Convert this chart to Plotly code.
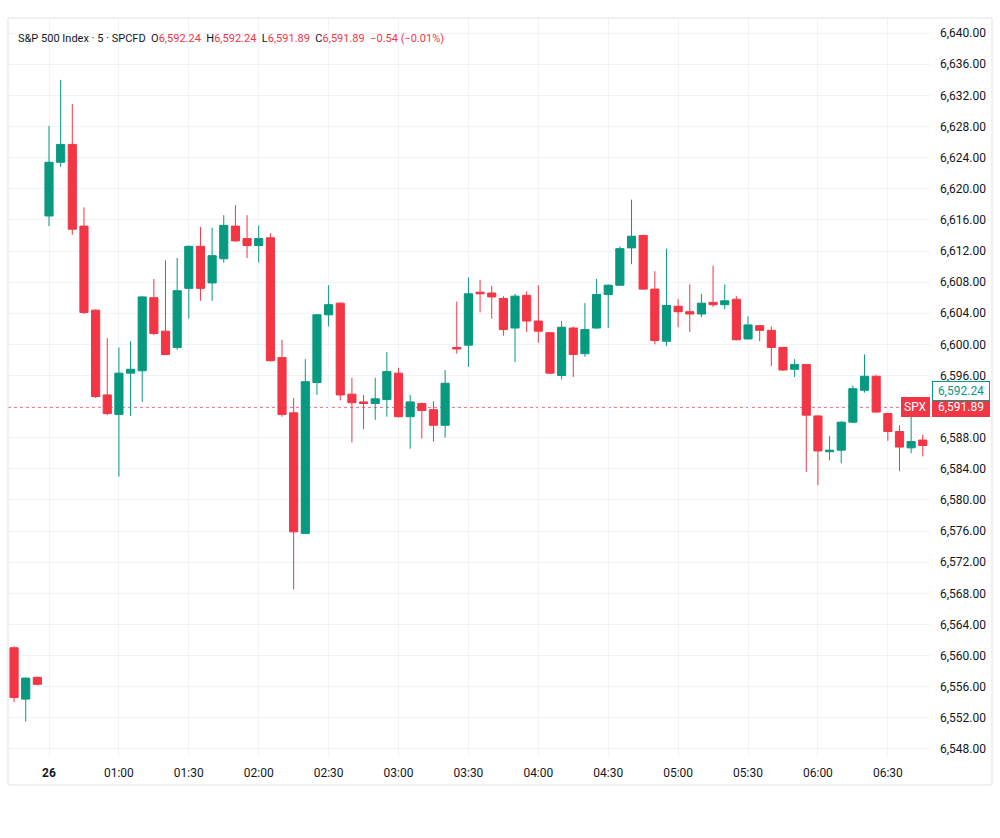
import plotly.graph_objects as go

# ---- data (5-minute bars, S&P 500 CFD) ----
opens = [6561.0, 6554.4, 6557.2, 6616.5, 6623.4, 6625.7, 6615.2, 6604.4, 6593.5, 6591.0,
         6596.3, 6596.6, 6606.0, 6601.7, 6599.6, 6607.2, 6612.6, 6607.9, 6611.0, 6615.2,
         6613.6, 6612.7, 6613.7, 6598.3, 6591.2, 6575.7, 6595.1, 6603.8, 6605.3, 6593.6,
         6592.6, 6592.4, 6592.9, 6596.3, 6590.7, 6592.4, 6591.6, 6589.6, 6599.6, 6599.9,
         6606.7, 6606.6, 6605.9, 6602.1, 6606.3, 6603.0, 6601.5, 6596.0, 6602.1, 6598.8,
         6602.1, 6606.4, 6607.6, 6612.4, 6614.0, 6607.1, 6600.4, 6604.9, 6604.2, 6603.9,
         6605.4, 6605.1, 6605.8, 6600.7, 6602.4, 6601.8, 6599.6, 6596.8, 6597.4, 6590.8,
         6586.2, 6586.4, 6590.0, 6594.1, 6595.9, 6591.1, 6588.8, 6586.7, 6587.7]
highs = [6561.2, 6557.2, 6557.3, 6628.1, 6634.0, 6630.9, 6617.6, 6604.5, 6600.8, 6599.6,
         6600.4, 6606.2, 6608.4, 6610.8, 6611.1, 6612.7, 6615.1, 6615.0, 6616.6, 6617.9,
         6616.6, 6615.3, 6614.3, 6600.6, 6593.1, 6598.1, 6603.9, 6607.6, 6605.4, 6595.7,
         6593.5, 6595.7, 6599.0, 6597.0, 6593.5, 6592.5, 6592.7, 6596.7, 6605.5, 6608.6,
         6608.3, 6607.5, 6606.2, 6606.5, 6606.8, 6607.6, 6601.6, 6603.0, 6602.3, 6605.3,
         6608.4, 6607.7, 6612.6, 6618.6, 6614.1, 6609.4, 6612.3, 6605.8, 6607.7, 6606.5,
         6610.1, 6607.7, 6606.2, 6603.6, 6602.5, 6602.3, 6599.7, 6598.1, 6597.5, 6590.9,
         6588.2, 6590.1, 6594.7, 6598.7, 6596.1, 6591.2, 6589.6, 6590.8, 6588.4]
lows = [6554.0, 6551.5, 6556.2, 6615.2, 6622.8, 6614.1, 6603.9, 6593.1, 6590.9, 6583.0,
        6590.8, 6592.6, 6601.2, 6598.6, 6599.3, 6603.3, 6605.6, 6605.6, 6610.5, 6613.2,
        6611.1, 6610.5, 6597.8, 6590.7, 6568.5, 6575.6, 6593.5, 6602.3, 6592.8, 6587.4,
        6589.1, 6590.3, 6590.7, 6590.6, 6586.6, 6587.9, 6587.5, 6588.0, 6598.8, 6597.1,
        6604.1, 6603.3, 6601.1, 6597.7, 6601.6, 6600.2, 6596.2, 6595.5, 6595.8, 6598.4,
        6602.0, 6602.1, 6607.5, 6610.3, 6607.0, 6600.0, 6599.8, 6602.2, 6601.6, 6603.5,
        6604.8, 6604.5, 6600.5, 6600.6, 6600.4, 6597.2, 6596.6, 6595.8, 6583.6, 6581.9,
        6585.1, 6584.7, 6589.9, 6593.8, 6591.2, 6587.6, 6583.7, 6586.0, 6585.6]
closes = [6554.6, 6557.1, 6556.3, 6623.4, 6625.7, 6614.8, 6604.1, 6593.3, 6591.1, 6596.3,
          6596.8, 6606.1, 6601.4, 6598.7, 6606.9, 6612.6, 6607.2, 6611.4, 6615.3, 6613.3,
          6612.7, 6613.6, 6597.9, 6591.0, 6575.9, 6595.2, 6603.8, 6605.1, 6593.5, 6592.5,
          6592.4, 6593.0, 6596.5, 6590.7, 6592.6, 6591.5, 6589.6, 6595.0, 6599.4, 6606.5,
          6606.5, 6606.1, 6601.9, 6606.2, 6603.0, 6601.7, 6596.3, 6602.2, 6598.7, 6601.9,
          6606.4, 6607.6, 6612.3, 6613.9, 6607.1, 6600.5, 6605.0, 6604.2, 6603.9, 6605.3,
          6605.1, 6605.6, 6600.6, 6602.5, 6601.8, 6599.6, 6596.7, 6597.4, 6590.9, 6586.3,
          6586.4, 6590.0, 6594.3, 6595.9, 6591.3, 6588.8, 6586.8, 6587.5, 6587.0]
bar_index = list(range(len(opens)))

tick_bars = [3, 9, 15, 21, 27, 33, 39, 45, 51, 57, 63, 69, 75]
tick_labels = ["<b>26</b>", "01:00", "01:30", "02:00", "02:30", "03:00", "03:30",
               "04:00", "04:30", "05:00", "05:30", "06:00", "06:30"]

last_price = 6591.89
other_price = 6592.24
header_parts = ["S&P 500 Index · 5 · SPCFD", "6,592.24", "6,592.24", "6,591.89", "6,591.89", "−0.54 (−0.01%)"]

GREEN = "#089981"
RED = "#f23645"
TXT = "#131722"
GRID = "#f0f3fa"

fig = go.Figure()
fig.add_trace(go.Candlestick(
    x=bar_index, open=opens, high=highs, low=lows, close=closes,
    increasing=dict(line=dict(color=GREEN, width=1), fillcolor=GREEN),
    decreasing=dict(line=dict(color=RED, width=1), fillcolor=RED),
    whiskerwidth=0, showlegend=False, hoverinfo="skip",
))

# last price dotted line
fig.add_shape(type="line", xref="paper", yref="y", x0=0, x1=1, y0=last_price, y1=last_price,
              line=dict(color="#e57f89", width=1, dash="dot"), layer="below")

# outer frame
fig.add_shape(type="rect", xref="paper", yref="paper", x0=0, x1=984/922, y0=-28/739, y1=1,
              line=dict(color="#e0e3eb", width=1), fillcolor="rgba(0,0,0,0)")

R = lambda s: f'<span style="color:{RED}">{s}</span>'
sp = "\u00a0\u00a0"
header = (header_parts[0] + sp + "O" + R(header_parts[1]) + sp + "H" + R(header_parts[2]) + sp +
          "L" + R(header_parts[3]) + sp + "C" + R(header_parts[4]) + sp + R(header_parts[5]))
fig.add_annotation(xref="paper", yref="paper", x=8/922, y=(757-38)/739, text=header,
                   showarrow=False, xanchor="left", yanchor="middle",
                   font=dict(family="Roboto", size=11, color=TXT))

# price labels on right axis
fig.add_annotation(xref="paper", yref="y", x=1.0025, y=last_price, text=f"{last_price:,.2f}",
                   showarrow=False, xanchor="left", yanchor="middle", bgcolor=RED,
                   bordercolor=RED, borderwidth=1, borderpad=2, width=52,
                   font=dict(family="Roboto", size=12, color="white"))
fig.add_annotation(xref="paper", yref="y", x=1.0025, y=last_price, yshift=16, text=f"{other_price:,.2f}",
                   showarrow=False, xanchor="left", yanchor="middle", bgcolor="white",
                   bordercolor=GREEN, borderwidth=1, borderpad=2, width=52,
                   font=dict(family="Roboto", size=12, color=GREEN))
fig.add_annotation(xref="paper", yref="y", x=0.9995, y=last_price, text="SPX",
                   showarrow=False, xanchor="right", yanchor="middle", bgcolor=RED,
                   bordercolor=RED, borderwidth=1, borderpad=2,
                   font=dict(family="Roboto", size=12, color="white"))

fig.update_layout(
    width=1000, height=838,
    margin=dict(l=8, r=70, t=18, b=81),
    paper_bgcolor="white", plot_bgcolor="white",
    boxgap=0.3, boxgroupgap=0,
    font=dict(family="Roboto", size=12, color=TXT),
    xaxis=dict(range=[-0.52, 78.62], tickmode="array", tickvals=tick_bars, ticktext=tick_labels,
               showgrid=True, gridcolor=GRID, gridwidth=1, zeroline=False, showline=False,
               ticks="", ticklabelstandoff=7, rangeslider=dict(visible=False),
               tickfont=dict(family="Roboto", size=12, color=TXT), fixedrange=True),
    yaxis=dict(range=[6546.96, 6641.95], side="right", dtick=4, tick0=6548, tickformat=",.2f",
               showgrid=True, gridcolor=GRID, gridwidth=1, zeroline=False, showline=False,
               ticks="", ticklabelstandoff=9,
               tickfont=dict(family="Roboto", size=12, color=TXT)),
)

fig.write_html("out.html")
